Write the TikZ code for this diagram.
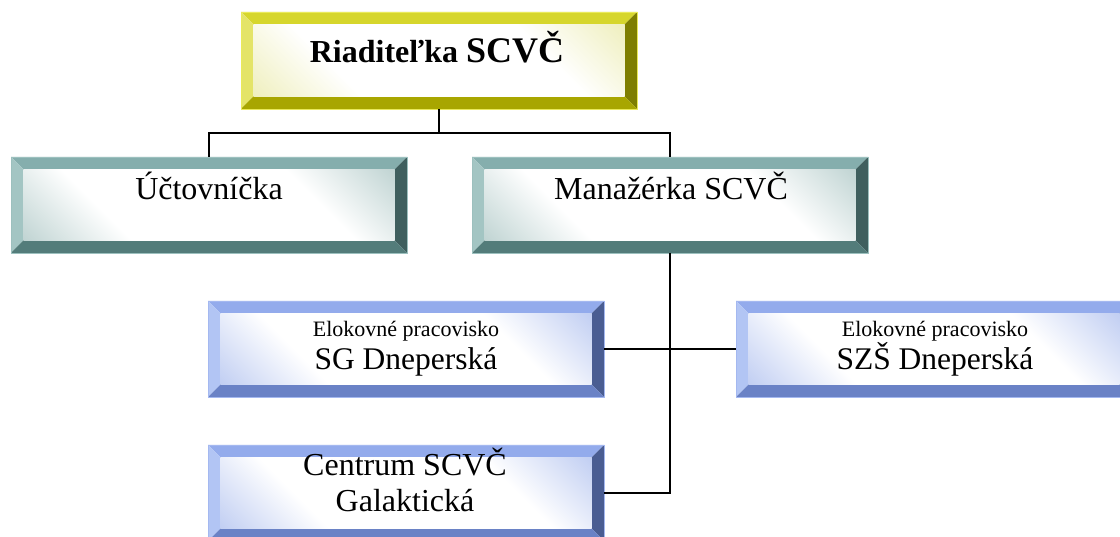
\documentclass[tikz,border=0pt]{standalone}
\usepackage{fontspec}
\setmainfont{Liberation Serif}
\definecolor{yTop}{HTML}{D6D62C}
\definecolor{yLeft}{HTML}{E4E468}
\definecolor{yRight}{HTML}{7E7E00}
\definecolor{yBot}{HTML}{A8A600}
\definecolor{yIn}{HTML}{E2E288}
\definecolor{yEdge}{HTML}{EAEA5A}
\definecolor{tTop}{HTML}{85AEAD}
\definecolor{tLeft}{HTML}{A3C5C3}
\definecolor{tRight}{HTML}{3F5F5E}
\definecolor{tBot}{HTML}{537C7A}
\definecolor{tIn}{HTML}{8CB0AE}
\definecolor{tEdge}{HTML}{9CC0BE}
\definecolor{bTop}{HTML}{93ABEC}
\definecolor{bLeft}{HTML}{B2C5F4}
\definecolor{bRight}{HTML}{4A5D92}
\definecolor{bBot}{HTML}{6A82C6}
\definecolor{bIn}{HTML}{8EA6E8}
\definecolor{bEdge}{HTML}{A4B8F0}
\pgfdeclareverticalshading{yshade}{100bp}{color(0bp)=(yIn); color(32bp)=(white); color(68bp)=(white); color(100bp)=(yIn)}
\pgfdeclareverticalshading{tshade}{100bp}{color(0bp)=(tIn); color(32bp)=(white); color(68bp)=(white); color(100bp)=(tIn)}
\pgfdeclareverticalshading{bshade}{100bp}{color(0bp)=(bIn); color(32bp)=(white); color(68bp)=(white); color(100bp)=(bIn)}
\tikzset{
  bevelbox/.style n args={6}{minimum width=396pt, minimum height=96pt, inner sep=0pt, outer sep=0pt,
    draw=#6, line width=0.6pt,
    path picture={
      \path (path picture bounding box.north west) coordinate (bbnw)
            (path picture bounding box.north east) coordinate (bbne)
            (path picture bounding box.south west) coordinate (bbsw)
            (path picture bounding box.south east) coordinate (bbse);
      \fill[#1] (bbnw) -- (bbne) -- ([shift={(-12.5pt,-12.5pt)}]bbne) -- ([shift={(12.5pt,-12.5pt)}]bbnw) -- cycle;
      \fill[#2] (bbnw) -- (bbsw) -- ([shift={(12.5pt,12.5pt)}]bbsw) -- ([shift={(12.5pt,-12.5pt)}]bbnw) -- cycle;
      \fill[#3] (bbne) -- (bbse) -- ([shift={(-12.5pt,12.5pt)}]bbse) -- ([shift={(-12.5pt,-12.5pt)}]bbne) -- cycle;
      \fill[#4] (bbsw) -- (bbse) -- ([shift={(-12.5pt,12.5pt)}]bbse) -- ([shift={(12.5pt,12.5pt)}]bbsw) -- cycle;
      \shade[shading=#5, shading angle=-45] ([shift={(12.5pt,-12.5pt)}]bbnw) rectangle ([shift={(-12.5pt,12.5pt)}]bbse);
    }},
  ybox/.style={bevelbox={yTop}{yLeft}{yRight}{yBot}{yshade}{yEdge}, minimum height=97pt},
  tbox/.style={bevelbox={tTop}{tLeft}{tRight}{tBot}{tshade}{tEdge}},
  bbox/.style={bevelbox={bTop}{bLeft}{bRight}{bBot}{bshade}{bEdge}},
  txt/.style={inner sep=0pt, anchor=base, align=center, text=black},
  link/.style={draw=black, line width=1.8pt}
}
\begin{document}
\begin{tikzpicture}[x=1pt,y=1pt]
\useasboundingbox (0,0) rectangle (1120,536);
\clip (0,0) rectangle (1120,536);
\fill[white] (0,0) rectangle (1120,536);
% boxes
\node[ybox] (r) at (439,475.5) {};
\node[tbox] (u) at (209,331) {};
\node[tbox] (m) at (670,331) {};
\node[bbox] (sg) at (406,187) {};
\node[bbox] (sz) at (934,187) {};
\node[bbox] (c) at (406,43) {};
% connectors
\draw[link] (r.south) -- ++(0,-24) coordinate (j);
\draw[link] (u.north) |- (j) -| (m.north);
\draw[link] (m.south) |- (c.east);
\draw[link] (sg.east) -- (sz.west);
% texts
\node[txt] (rt) at (437,473) {\bfseries\fontsize{32}{38}\selectfont Riaditeľka \fontsize{36}{40}\selectfont SCVČ};
\node[txt] (ut) at (209,336) {\fontsize{32}{38}\selectfont Účtovníčka};
\node[txt] (mt) at (671,336) {\fontsize{32}{38}\selectfont Manažérka SCVČ};
\node[txt, font=\fontsize{31.5}{33}\selectfont] (sgt) at (406,166) {{\fontsize{22}{26}\selectfont Elokovné pracovisko}\\SG Dneperská};
\node[txt, font=\fontsize{31.5}{33}\selectfont] (szt) at (935,166) {{\fontsize{22}{26}\selectfont Elokovné pracovisko}\\SZŠ Dneperská};
\node[txt, font=\fontsize{32}{36.5}\selectfont] (ct) at (405,24) {Centrum SCVČ\\Galaktická};
\end{tikzpicture}
\end{document}
